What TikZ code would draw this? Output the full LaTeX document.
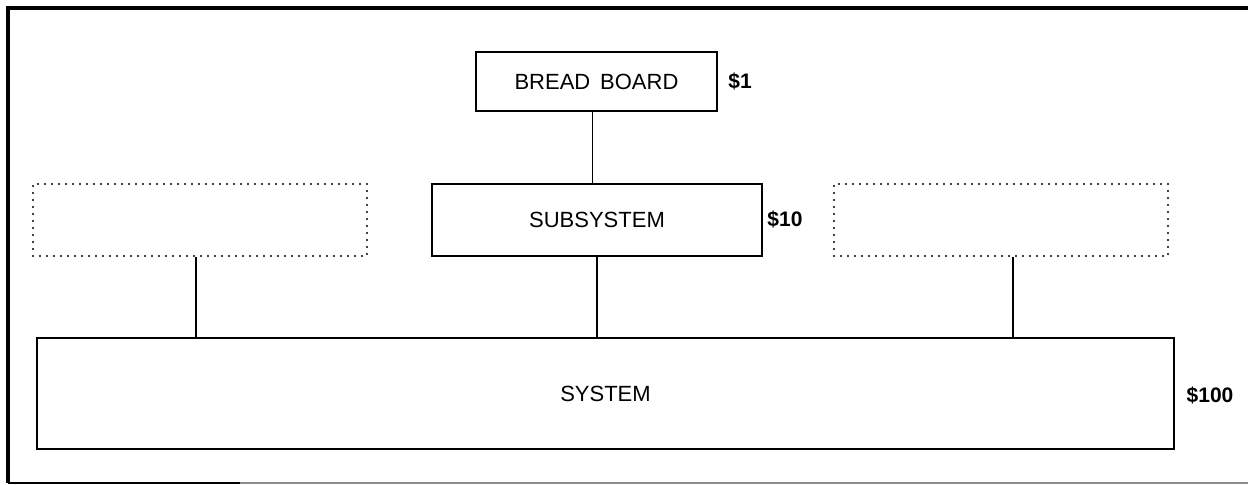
\documentclass[tikz,border=0pt]{standalone}
\usepackage{fontspec}
\setmainfont{Liberation Sans}
\begin{document}
\begin{tikzpicture}[x=0.5pt,y=-0.5pt,
  box/.style={draw, line width=1pt, inner sep=0pt, font=\fontsize{11}{13}\selectfont},
  dotbox/.style={draw, line width=1.1pt, line cap=round, dash pattern=on 0pt off 3.5pt, inner sep=0pt},
  conn/.style={draw, line width=0.9pt},
  cost/.style={inner sep=0pt, font=\fontsize{10.5}{12}\selectfont\bfseries},
  frame/.style={line width=1.6pt}
]
\useasboundingbox (0,0) rectangle (1248,485);
% frame
\draw[frame] (8,483) -- (8,8) -- (1248,8);
\draw[line width=0.6pt, black!45] (8,483) -- (1248,483);
\draw[line width=1.2pt] (8,483) -- (240,483);
% boxes
\node[box, minimum width=120.5pt, minimum height=29.5pt] (bb) at (596.5,81.5) {BREAD\hspace{0.45em}BOARD};
\node[box, minimum width=165pt, minimum height=36pt] (sub) at (597,220) {SUBSYSTEM};
\node[dotbox, minimum width=167pt, minimum height=36pt] (ld) at (200,220) {};
\node[dotbox, minimum width=167pt, minimum height=36pt] (rd) at (1001,220) {};
\node[box, minimum width=568.5pt, minimum height=55.5pt] (sys) at (605.5,393.5) {SYSTEM};
% costs
\node[cost] (c1) at (740,81.5) {\$1};
\node[cost] (c10) at (785,219) {\$10};
\node[cost] (c100) at (1210,395) {\$100};
% connectors
\draw[conn] ([xshift=-2pt]bb.south) -- ([xshift=-2pt]bb.south |- sub.north);
\draw[conn] (sub.south) -- (sub.south |- sys.north);
\draw[conn] ([xshift=-2pt]ld.south) -- ([xshift=-2pt]ld.south |- sys.north);
\draw[conn] ([xshift=6pt]rd.south) -- ([xshift=6pt]rd.south |- sys.north);
\end{tikzpicture}
\end{document}
